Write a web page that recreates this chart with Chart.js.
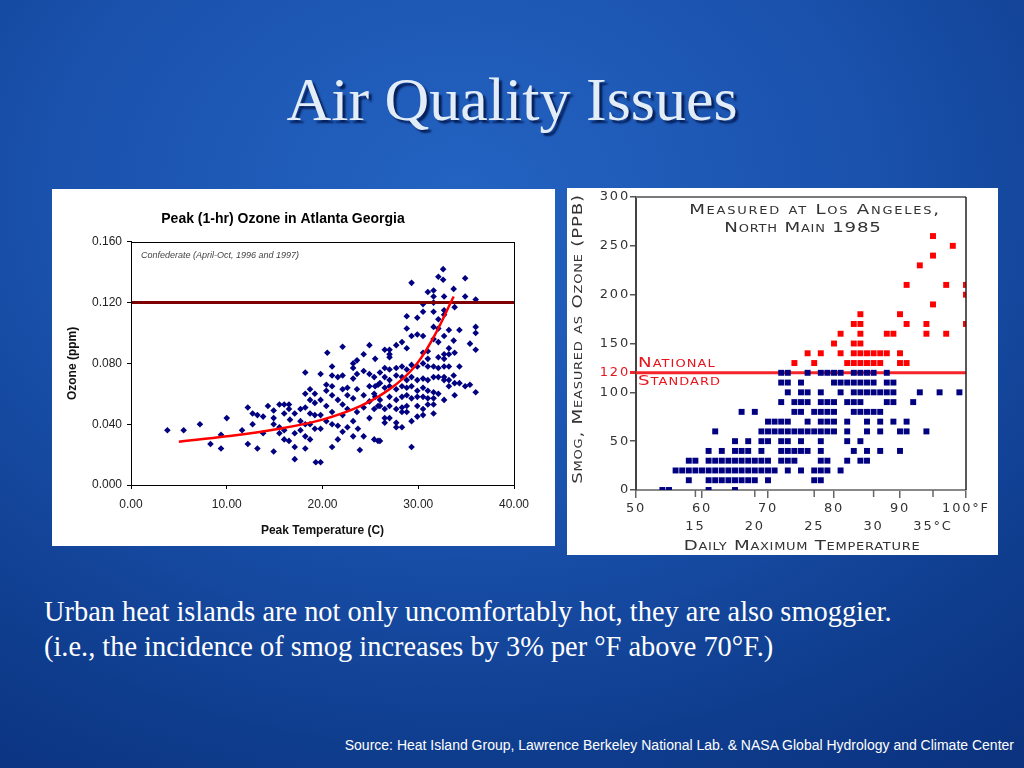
<!DOCTYPE html>
<html>
<head>
<meta charset="utf-8">
<script src="https://cdn.jsdelivr.net/npm/chart.js@4.4.1/dist/chart.umd.min.js"></script>
<style>
html, body { margin: 0; padding: 0; }
body {
    width: 1024px; height: 768px; overflow: hidden; position: relative;
    background: radial-gradient(ellipse 900px 700px at 45% 25%, #2463c2 0%, #1a52ad 45%, #0f3d8e 80%, #0b3380 100%);
}
h1 {
    position: absolute; left: 0; top: 68px; width: 1024px; margin: 0;
    text-align: center; font-family: "Liberation Serif", serif; font-weight: normal;
    font-size: 62px; line-height: 62px; color: #e2edf8; text-shadow: 3px 3px 2px #06205a;
}
canvas { position: absolute; background: #fff; }
#atl { left: 52px; top: 189px; }
#la { left: 567px; top: 188px; }
.caption {
    position: absolute; left: 44px; top: 594px; margin: 0;
    font-family: "Liberation Serif", serif; font-size: 28.4px; line-height: 35px; color: #fff;
}
.source {
    position: absolute; right: 10px; top: 737px;
    font-family: "Liberation Sans", sans-serif; font-size: 14px; line-height: 16px; color: #fff;
}
</style>
</head>
<body>
<h1>Air Quality Issues</h1>
<canvas id="atl" width="503" height="357"></canvas>
<canvas id="la" width="431" height="367"></canvas>
<p class="caption">Urban heat islands are not only uncomfortably hot, they are also smoggier.<br>(i.e., the incidence of smog increases by 3% per &deg;F above 70&deg;F.)</p>
<div class="source">Source: Heat Island Group, Lawrence Berkeley National Lab. &amp; NASA Global Hydrology and Climate Center</div>
<script>
"use strict";

// Atlanta: peak temperature (C) columns and the ozone readings (ppm) at each
const atlTemps = [3.8, 5.5, 7.2, 8.3, 9.4, 10.0, 11.6, 12.2, 12.7, 13.2, 13.8, 14.3, 14.9, 15.5, 16.0,
    16.5, 16.6, 17.1, 17.7, 18.2, 18.7, 19.2, 19.3, 19.8, 20.4, 20.5, 21.0, 21.6, 22.1, 22.6,
    23.2, 23.6, 23.7, 23.9, 24.3, 24.9, 25.4, 25.5, 25.8, 26.0, 26.5, 27.0, 27.7, 28.3, 28.8,
    29.3, 29.9, 30.5, 31.0, 31.6, 32.1, 32.6, 32.7, 33.2, 33.7, 33.8, 34.3, 34.9, 35.4, 36.0];
const atlOzone = [
    [.036], [.036], [.040], [.027], [.033, .024], [.044], [.036], [.051, .027], [.047, .040],
    [.046, .024], [.045, .034], [.052], [.049, .044, .040, .022], [.053, .038, .034],
    [.053, .047, .036, .030], [.053, .050, .029], [.043], [.047, .034, .025, .017],
    [.050, .042, .036], [.074, .060, .051, .040, .032, .024], [.063, .056, .047, .040, .030],
    [.060, .054, .046, .037], [.015], [.073, .056, .046, .037, .015], [.066, .062, .052, .042],
    [.087], [.078, .072, .065, .059, .048, .040, .025], [.071, .056, .039, .030],
    [.091, .072, .063, .053, .046, .035], [.064, .059, .050, .038],
    [.080, .077, .070, .057, .042, .032], [.082, .073, .063, .048], [.037], [.023],
    [.086, .075, .059, .051, .032], [.092, .073, .065, .055, .044], [.071, .060, .050, .030],
    [.083, .065, .058], [.066, .052, .029], [.074, .067, .056, .052, .029],
    [.089, .077, .071, .064, .050, .044, .041], [.089, .086, .084, .076, .069, .065, .058, .052, .044],
    [.092, .077, .072, .063, .056, .050, .041, .038], [.094, .078, .071, .065, .058, .051, .048, .038],
    [.111, .103, .090, .076, .069, .064, .059, .052, .048], [.133, .098, .079, .071, .065, .057, .042, .025],
    [.110, .099, .078, .069, .062, .058, .052, .045], [.119, .114, .098, .087, .080, .070, .064, .058, .050, .046],
    [.127, .088, .083, .078, .069, .062, .057, .053],
    [.128, .124, .120, .114, .104, .096, .078, .071, .061, .057, .053, .047],
    [.137, .109, .103, .094, .084, .077, .071, .060], [.142, .135],
    [.124, .115, .112, .098, .086, .083, .078, .071, .069, .056], [.102, .090, .086, .078, .069, .065],
    [.129, .095, .072], [.117, .087, .067, .059], [.102, .078, .067], [.136, .124, .065],
    [.093, .066], [.122, .104, .100, .089, .061]];
const atlTrendTemp = [5, 10, 15, 20, 24, 27, 29.5, 31.5, 33.7];
const atlTrendOzone = [0.0285, 0.032, 0.0365, 0.043, 0.052, 0.063, 0.077, 0.096, 0.124];
const atlStandard = 0.12;
const atlTempRange = [0, 40];
const atlOzoneRange = [0, 0.16];

// Los Angeles: ozone levels (ppb) and the daily max temperatures (F) seen at each level
const laLevels = [0, 10, 20, 30, 40, 50, 60, 70, 80, 90, 100, 110, 120, 130, 140, 150, 160, 170,
    180, 190, 200, 210, 230, 240, 250, 260];
const laTemps = [
    [54, 55, 61, 65],
    [58, 61, 62, 63, 64, 65, 66, 67, 68, 70, 77, 78],
    [56, 57, 58, 59, 60, 61, 62, 63, 64, 65, 66, 67, 68, 69, 70, 71, 73, 75, 77, 78, 79, 81],
    [58, 59, 61, 62, 63, 64, 65, 66, 67, 68, 69, 70, 72, 73, 74, 78, 79, 82, 84, 85],
    [61, 63, 65, 66, 67, 69, 72, 73, 74, 75, 76, 78, 83, 85, 87, 90],
    [65, 67, 69, 70, 72, 73, 75, 78, 82, 84],
    [62, 69, 70, 71, 72, 73, 74, 75, 76, 77, 78, 79, 80, 82, 85, 87, 90, 91, 94],
    [70, 71, 72, 73, 76, 78, 79, 80, 82, 85, 87, 89, 91],
    [66, 68, 74, 75, 77, 78, 79, 80, 83, 84, 85, 86, 87],
    [72, 74, 75, 76, 78, 79, 80, 82, 83, 84, 88, 89, 92],
    [73, 75, 76, 78, 81, 83, 84, 85, 86, 87, 88, 89, 93, 96, 99],
    [72, 73, 75, 80, 81, 82, 83, 84, 85, 86, 88, 89],
    [72, 73, 76, 78, 79, 80, 81, 83, 84, 85, 86, 88],
    [74, 77, 82, 83, 84, 85, 86, 87, 90, 91],
    [76, 78, 81, 83, 84, 85, 86, 87, 88, 90],
    [80, 83, 84],
    [81, 84, 88, 89, 94, 97],
    [83, 84, 91, 94, 100],
    [84, 90],
    [95],
    [100],
    [91, 97, 100],
    [93],
    [95],
    [98],
    [95]];
const laStandard = 120;
const laTempRangeF = [50, 100];
const laTicksC = [15, 20, 25, 30, 35];
const laOzoneRange = [0, 300];

const atlPoints = atlTemps.flatMap((t, i) => atlOzone[i].map(o => ({ x: t, y: o })));
const atlTrend = atlTrendTemp.map((t, i) => ({ x: t, y: atlTrendOzone[i] }));
const laPoints = laLevels.flatMap((p, i) => laTemps[i].map(t => ({ x: t, y: p })));

const plotFrame = {
    id: "plotFrame",
    afterDatasetsDraw(chart, args, opts) {
        const { ctx, chartArea: a } = chart;
        ctx.save();
        ctx.strokeStyle = opts.color;
        ctx.lineWidth = 1;
        ctx.strokeRect(Math.round(a.left) + 0.5, Math.round(a.top) + 0.5,
            Math.round(a.right - a.left), Math.round(a.bottom - a.top));
        ctx.font = 'italic 9px "Liberation Sans", sans-serif';
        ctx.fillStyle = "#444";
        ctx.textBaseline = "middle";
        ctx.fillText(opts.note, a.left + 10, a.top + 14);
        ctx.restore();
    }
};

new Chart(document.getElementById("atl"), {
    type: "scatter",
    data: {
        datasets: [{
            label: "Trend",
            data: atlTrend,
            showLine: true,
            tension: 0.4,
            borderColor: "#ff0000",
            borderWidth: 2.5,
            pointRadius: 0,
            order: 1
        }, {
            label: "National standard",
            data: atlTempRange.map(t => ({ x: t, y: atlStandard })),
            showLine: true,
            borderColor: "#7f0000",
            borderWidth: 3,
            pointRadius: 0,
            order: 2
        }, {
            label: "Peak ozone",
            data: atlPoints,
            pointStyle: "rectRot",
            pointRadius: 3.3,
            backgroundColor: "#000080",
            borderColor: "#000080",
            borderWidth: 0,
            order: 3
        }]
    },
    options: {
        responsive: false,
        animation: false,
        events: [],
        layout: { padding: { left: 0, right: 41, top: 0, bottom: 0 } },
        plugins: {
            legend: { display: false },
            tooltip: { enabled: false },
            title: {
                display: true,
                text: "Peak (1-hr) Ozone in Atlanta Georgia",
                color: "#000",
                font: { family: "'Liberation Sans', Arial, sans-serif", size: 14, weight: "bold" },
                padding: { top: 22, bottom: 14 }
            },
            plotFrame: { color: "#000", note: "Confederate (April-Oct, 1996 and 1997)" }
        },
        scales: {
            x: {
                type: "linear",
                min: atlTempRange[0],
                max: atlTempRange[1],
                ticks: {
                    stepSize: 10,
                    color: "#222",
                    padding: 8.8,
                    font: { family: "'Liberation Sans', Arial, sans-serif", size: 12 },
                    callback: v => v.toFixed(2)
                },
                grid: { drawOnChartArea: false, tickLength: 4, color: "#000" },
                border: { color: "#000" },
                title: {
                    display: true,
                    text: "Peak Temperature (C)",
                    color: "#111",
                    font: { family: "'Liberation Sans', Arial, sans-serif", size: 12, weight: "bold" },
                    padding: { top: 7.8, bottom: 7.8 }
                },
                afterFit: s => { s.height = 61; }
            },
            y: {
                type: "linear",
                min: atlOzoneRange[0],
                max: atlOzoneRange[1],
                ticks: {
                    stepSize: 0.04,
                    color: "#222",
                    padding: 5,
                    font: { family: "'Liberation Sans', Arial, sans-serif", size: 12 },
                    callback: v => v.toFixed(3)
                },
                grid: { drawOnChartArea: false, tickLength: 4, color: "#000" },
                border: { color: "#000" },
                title: {
                    display: true,
                    text: "Ozone (ppm)",
                    color: "#111",
                    font: { family: "'Liberation Sans', Arial, sans-serif", size: 12, weight: "bold" },
                    padding: { top: 13.5, bottom: 13.5 }
                },
                afterFit: s => { s.width = 79; }
            }
        }
    },
    plugins: [plotFrame]
});

// small caps text, stretched a little to look like the wide lettering of the original
function capsText(ctx, text, x, y, size, color, align, spacing, rotate) {
    ctx.save();
    ctx.translate(x, y);
    if (rotate) ctx.rotate(-Math.PI / 2);
    ctx.scale(1.3, 1);
    ctx.font = `small-caps ${size}px "DejaVu Sans", sans-serif`;
    ctx.letterSpacing = spacing + "px";
    ctx.fillStyle = color;
    ctx.textBaseline = "middle";
    ctx.textAlign = align;
    ctx.fillText(text, 0, 0);
    ctx.restore();
}

const laDecor = {
    id: "laDecor",
    beforeDraw(chart) {
        chart.ctx.letterSpacing = "1.8px";
    },
    afterDraw(chart) {
        const { ctx, chartArea: a, scales } = chart;
        ctx.letterSpacing = "0px";
        ctx.save();
        ctx.strokeStyle = "#7a7a7a";
        ctx.lineWidth = 2;
        ctx.beginPath();
        ctx.moveTo(a.left, a.top);
        ctx.lineTo(a.right, a.top);
        ctx.stroke();
        ctx.strokeStyle = "#222";
        ctx.lineWidth = 1.5;
        ctx.beginPath();
        ctx.moveTo(a.right, a.top);
        ctx.lineTo(a.right, a.bottom);
        ctx.stroke();
        // celsius tick marks sit on the same axis line
        ctx.strokeStyle = "#666";
        ctx.lineWidth = 1.5;
        scales.xC.ticks.forEach(t => {
            const px = scales.xC.getPixelForValue(t.value);
            ctx.beginPath();
            ctx.moveTo(px, a.bottom);
            ctx.lineTo(px, a.bottom + 7);
            ctx.stroke();
        });
        ctx.restore();
        capsText(ctx, "Measured at Los Angeles,", 248, 22, 14, "#333", "center", 1.35);
        capsText(ctx, "North Main 1985", 236, 40, 14, "#333", "center", 0.6);
        capsText(ctx, "National", 71, 175, 14, "#e8141c", "left", 0.8);
        capsText(ctx, "Standard", 71, 193, 14, "#e8141c", "left", 0.8);
        capsText(ctx, "Daily Maximum Temperature", 235, 358, 14, "#333", "center", 0.55);
        capsText(ctx, "Smog, Measured as Ozone (PPB)", 11, 151, 14, "#333", "center", 0.6, true);
    }
};

const laTickFont = { family: "'DejaVu Sans', sans-serif", size: 13 };

new Chart(document.getElementById("la"), {
    type: "scatter",
    data: {
        datasets: [{
            label: "Above standard",
            data: laPoints.filter(p => p.y > laStandard),
            pointStyle: "rect",
            pointRadius: 4.2,
            backgroundColor: "#ff0000",
            borderWidth: 0,
            order: 1
        }, {
            label: "At or below standard",
            data: laPoints.filter(p => p.y <= laStandard),
            pointStyle: "rect",
            pointRadius: 4.2,
            backgroundColor: "#000080",
            borderWidth: 0,
            order: 2
        }, {
            label: "National standard",
            data: laTempRangeF.map(t => ({ x: t, y: laStandard })),
            showLine: true,
            borderColor: "#f4242a",
            borderWidth: 3,
            pointRadius: 0,
            order: 3
        }]
    },
    options: {
        responsive: false,
        animation: false,
        events: [],
        layout: { padding: { left: 0, right: 32, top: 9, bottom: 0 } },
        plugins: {
            legend: { display: false },
            tooltip: { enabled: false }
        },
        scales: {
            x: {
                type: "linear",
                position: "bottom",
                weight: 0,
                min: laTempRangeF[0],
                max: laTempRangeF[1],
                ticks: {
                    stepSize: 10,
                    color: "#333",
                    padding: 2.8,
                    font: laTickFont,
                    callback: v => v === 100 ? "100°F" : String(v)
                },
                grid: { drawOnChartArea: false, tickLength: 8, color: "#666", lineWidth: 1.5 },
                border: { color: "#888", width: 2 },
                afterFit: s => { s.height = 27; }
            },
            xC: {
                type: "linear",
                position: "bottom",
                weight: 1,
                min: (laTempRangeF[0] - 32) * 5 / 9,
                max: (laTempRangeF[1] - 32) * 5 / 9,
                afterBuildTicks: s => { s.ticks = laTicksC.map(v => ({ value: v })); },
                ticks: {
                    autoSkip: false,
                    color: "#333",
                    padding: 1.8,
                    font: laTickFont,
                    callback: v => v === 35 ? "35°C" : String(v)
                },
                grid: { display: false, drawTicks: false },
                border: { display: false },
                afterFit: s => { s.height = 38; }
            },
            y: {
                type: "linear",
                min: laOzoneRange[0],
                max: laOzoneRange[1],
                afterBuildTicks: s => {
                    s.ticks.push({ value: laStandard });
                    s.ticks.sort((p, q) => p.value - q.value);
                },
                ticks: {
                    stepSize: 50,
                    autoSkip: false,
                    padding: 0,
                    font: laTickFont,
                    color: c => c.tick && c.tick.value === laStandard ? "#e8141c" : "#333"
                },
                grid: {
                    drawOnChartArea: false,
                    tickLength: 6,
                    color: c => c.tick && c.tick.value === laStandard ? "#f4242a" : "#555",
                    lineWidth: c => c.tick && c.tick.value === laStandard ? 3 : 1.5
                },
                border: { color: "#444", width: 2 },
                afterFit: s => { s.width = 69; }
            }
        }
    },
    plugins: [laDecor]
});
</script>
</body>
</html>
